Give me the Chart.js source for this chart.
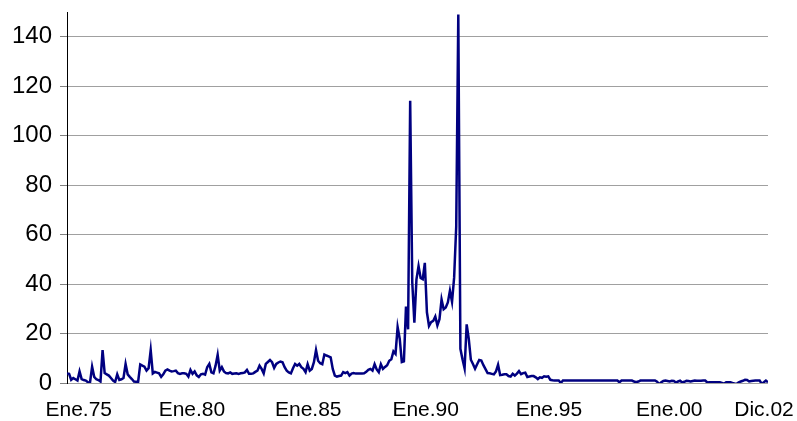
<!DOCTYPE html>
<html>
<head>
<meta charset="utf-8">
<script src="https://cdn.jsdelivr.net/npm/chart.js@4/dist/chart.umd.min.js"></script>
<style>
    html, body { margin: 0; padding: 0; background: #fff; }
    #caja { width: 797px; height: 421px; position: relative; }
</style>
</head>
<body>
<div id="caja"><canvas id="grafico"></canvas></div>
<script>
// inflación mensual (%), de Ene.75 a Dic.02, un valor por mes
const inflacion = [
    3.9, 3.7, 1.3, 2.0, 1.5, 1.0, 4.7, 1.6, 1.2, 1.0, 0.3, 0.2,          // 1975
    6.6, 2.5, 1.5, 1.2, 0.6, 13.3, 4.0, 3.5, 3.0, 2.0, 1.0, 0.4,         // 1976
    3.5, 1.2, 1.5, 2.0, 7.7, 3.5, 2.5, 1.6, 0.6, 0.5, 0.5, 7.5,          // 1977
    7.0, 6.6, 5.0, 6.0, 13.3, 3.9, 4.5, 4.2, 3.9, 2.5, 3.5, 5.0,         // 1978
    5.5, 5.0, 4.7, 4.8, 5.0, 4.0, 3.7, 3.9, 3.9, 3.7, 2.6, 5.3,          // 1979
    3.7, 4.7, 3.1, 2.4, 3.5, 3.7, 3.4, 6.4, 7.7, 4.3, 3.9, 7.0,          // 1980
    11.4, 5.0, 6.4, 4.7, 4.0, 3.9, 4.3, 3.7, 3.8, 3.9, 3.7, 3.9,         // 1981
    4.0, 4.3, 5.3, 3.7, 3.7, 3.9, 4.5, 5.0, 7.0, 5.7, 3.9, 7.7,          // 1982
    8.5, 9.3, 8.4, 6.1, 7.7, 8.3, 8.7, 8.4, 6.4, 5.0, 4.3, 3.9,          // 1983
    6.0, 7.7, 7.0, 7.7, 6.4, 5.7, 4.4, 7.6, 5.0, 5.7, 8.4, 13.3,         // 1984
    9.0, 8.0, 7.6, 11.5, 11.1, 10.8, 10.4, 5.7, 3.0, 2.6, 2.8, 3.0,      // 1985
    4.4, 4.0, 4.4, 3.0, 3.8, 4.0, 3.8, 3.8, 3.8, 3.8, 3.9, 4.5,          // 1986
    5.3, 5.7, 5.0, 7.6, 5.5, 4.4, 7.6, 5.7, 6.5, 7.2, 9.0, 9.6,          // 1987
    12.8, 11.8, 22.6, 17.9, 8.5, 8.8, 30.9, 21.7, 114.1, 40.6, 24.4, 41.9, // 1988
    47.3, 42.5, 42.0, 48.6, 28.6, 23.1, 24.6, 25.1, 26.9, 23.3, 25.8, 33.8, // 1989
    29.8, 30.5, 32.6, 37.3, 32.8, 42.6, 63.2, 149, 13.8, 9.6, 5.9, 23.7,    // 1990
    17.8, 9.4, 7.7, 5.8, 7.6, 9.3, 9.1, 7.2, 5.6, 4.0, 3.9, 3.7,         // 1991
    3.5, 4.7, 7.4, 3.2, 3.3, 3.5, 3.5, 2.8, 2.6, 3.7, 3.0, 3.8,          // 1992
    4.8, 3.6, 4.0, 4.2, 2.4, 2.6, 2.8, 2.8, 2.3, 1.6, 2.3, 2.1,          // 1993
    2.7, 2.5, 2.7, 1.3, 1.1, 1.0, 1.0, 1.0, 0.0, 1.0, 1.0, 1.0,          // 1994
    1.0, 1.0, 1.0, 1.0, 1.0, 1.0, 1.0, 1.0, 1.0, 1.0, 1.0, 1.0,          // 1995
    1.0, 1.0, 1.0, 1.0, 1.0, 1.0, 1.0, 1.0, 1.0, 1.0, 1.0, 1.0,          // 1996
    0.3, 1.0, 1.0, 1.0, 1.0, 1.0, 1.0, 0.6, 0.3, 0.6, 1.0, 1.0,          // 1997
    1.0, 1.0, 1.0, 1.0, 1.0, 1.0, 0.5, -0.5, 0.3, 0.8, 1.0, 0.8,         // 1998
    0.6, 0.9, 0.8, 0.2, 0.6, 0.9, 0.2, 0.5, 0.9, 0.8, 0.6, 0.8,          // 1999
    1.0, 0.9, 0.9, 0.9, 1.0, 1.0, 0.2, 0.3, 0.3, 0.3, 0.3, 0.3,          // 2000
    0.3, 0.0, -0.3, 0.3, 0.3, 0.3, 0.0, -0.2, -0.3, 0.3, 0.6, 0.9,       // 2001
    1.3, 1.2, 0.6, 0.8, 0.9, 1.0, 1.0, 1.0, -0.3, 0.3, 1.0, 0.3          // 2002
];

// etiquetas del eje X y el mes (índice) bajo el que aparecen en el original
const etiquetasX = ['Ene.75', 'Ene.80', 'Ene.85', 'Ene.90', 'Ene.95', 'Ene.00', 'Dic.02'];
const posEtiquetas = [5.6, 59.7, 115.3, 171.4, 230.3, 287.8, 333.1];

// marcas del eje Y
const marcasY = [0, 20, 40, 60, 80, 100, 120, 140];

const familia = "'Liberation Sans', Arial, sans-serif";

const puntos = inflacion.map((v, i) => ({ x: i, y: v }));

new Chart(document.getElementById('grafico'), {
    type: 'line',
    data: {
        datasets: [{
            data: puntos,
            borderColor: '#000080',
            borderWidth: 2.5,
            pointRadius: 0,
            tension: 0,
            fill: false
        }]
    },
    options: {
        responsive: true,
        maintainAspectRatio: false,
        animation: false,
        layout: { padding: { top: 12, right: 29, left: 0, bottom: 0 } },
        plugins: {
            legend: { display: false },
            tooltip: { enabled: false }
        },
        scales: {
            x: {
                type: 'linear',
                min: 0,
                max: inflacion.length - 1,
                grid: { display: false, drawTicks: false },
                border: { display: false },
                afterBuildTicks: function(eje) {
                    eje.ticks = posEtiquetas.map(v => ({ value: v }));
                },
                afterFit: function(eje) {
                    eje.height = 38;
                    eje.paddingLeft = 0;
                    eje.paddingRight = 0;
                },
                ticks: {
                    autoSkip: false,
                    maxRotation: 0,
                    padding: 15,
                    color: '#000',
                    font: { family: familia, size: 21 },
                    callback: function(valor, i) { return etiquetasX[i]; }
                }
            },
            y: {
                min: 0,
                max: 150,
                afterBuildTicks: function(eje) {
                    eje.ticks = marcasY.map(v => ({ value: v }));
                },
                afterFit: function(eje) {
                    eje.width = 67;
                    eje.paddingTop = 0;
                    eje.paddingBottom = 0;
                },
                grid: {
                    color: '#a0a0a0',
                    lineWidth: 1,
                    drawTicks: true,
                    tickLength: 7,
                    tickColor: '#808080'
                },
                border: { display: true, color: '#000', width: 1 },
                ticks: {
                    padding: 8,
                    color: '#000',
                    font: { family: familia, size: 24 }
                }
            }
        }
    }
});
</script>
</body>
</html>
